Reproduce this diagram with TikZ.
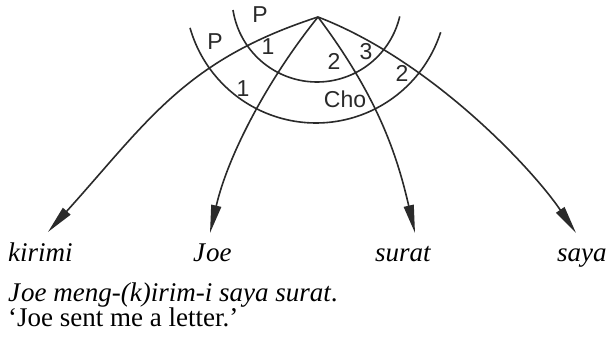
\documentclass[tikz,border=0pt]{standalone}
\usepackage{fontspec}
\setmainfont{Liberation Serif}
\newfontfamily\labfont{Liberation Sans}
\usetikzlibrary{arrows.meta}
\definecolor{ink}{HTML}{2A2A2A}
\tikzset{
  arc line/.style={draw=ink, line width=1.6pt},
  rel/.style={draw=ink, line width=1.6pt, -{Triangle[length=28pt,width=10pt]}},
  numlab/.style={inner sep=0pt, anchor=base, text=ink, font=\labfont\fontsize{23}{26}\selectfont},
  word/.style={inner sep=0pt, anchor=base west, text=black, font=\fontsize{27}{30}\selectfont\itshape},
  gloss/.style={inner sep=0pt, anchor=base west, text=black, font=\fontsize{27}{30}\selectfont},
}
\begin{document}
\begin{tikzpicture}[x=1pt, y=-1pt]
\useasboundingbox (0,0) rectangle (610,342);
\fill[white] (0,0) rectangle (610,342);
% arcs
\draw[arc line] plot[domain=171.2:13.2, samples=80, smooth] ({317+85*cos(\x)}, {-3+85*sin(\x)});
\draw[arc line] plot[domain=164.1:17.9, samples=80, smooth] ({316+131*cos(\x)}, {-8+131*sin(\x)});
% vertex and tips
\coordinate (V) at (318,17);
\coordinate (tk) at (48,232);
\coordinate (tj) at (210,233);
\coordinate (ts) at (415,233);
\coordinate (ty) at (576,233);
\draw[rel] (V) .. controls (185,60) and (148,121) .. (tk);
\draw[rel] (V) .. controls (268,79) and (228,155) .. (tj);
\draw[rel] (V) .. controls (378,97) and (397,155) .. (ts);
\draw[rel] (V) .. controls (430,60) and (531,167) .. (ty);
% labels on arcs
\node[numlab] (p1) at (260,23) {P};
\node[numlab] (p2) at (215,50) {P};
\node[numlab] (n1a) at (268,55) {1};
\node[numlab] (n1b) at (243,97) {1};
\node[numlab] (n2a) at (334,70) {2};
\node[numlab] (n3) at (366,60) {3};
\node[numlab] (n2b) at (402,82) {2};
\node[numlab] (cho) at (345,108) {Cho};
% words
\node[word] (kirimi) at (8,261) {kirimi};
\node[word] (joe) at (193,261) {J\kern1pt oe};
\node[word] (surat) at (375,261) {surat};
\node[word] (saya) at (557,261) {saya};
\node[word] (sent) at (8,301) {J\kern1pt oe meng-(k)irim-i saya surat\upshape.};
\node[gloss] (trans) at (8,326) {`Joe sent me a letter.'};
\end{tikzpicture}
\end{document}
